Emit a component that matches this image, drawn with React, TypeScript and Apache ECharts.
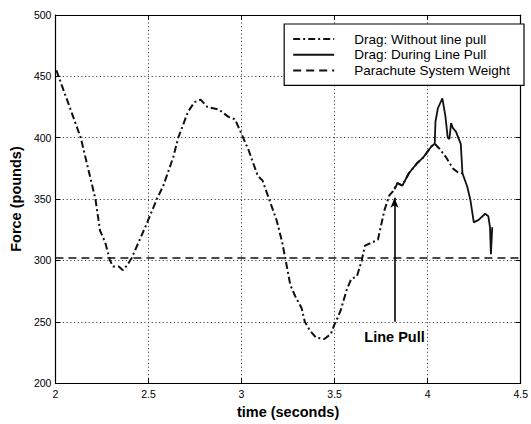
import React, { useEffect, useRef } from "react";
import * as echarts from "echarts";

// Drag force without any line pull (seconds, pounds)
const noPullTime = [
  2.005, 2.136, 2.215, 2.24, 2.267, 2.293, 2.31, 2.34, 2.363, 2.385, 2.41, 2.485,
  2.545, 2.58, 2.633, 2.66, 2.712, 2.747, 2.78, 2.817, 2.877, 2.93, 2.965, 3.0,
  3.04, 3.087, 3.113, 3.148, 3.19, 3.218, 3.236, 3.262, 3.288, 3.323, 3.34, 3.367,
  3.4, 3.445, 3.48, 3.497, 3.51, 3.532, 3.565, 3.59, 3.62, 3.646, 3.663, 3.707,
  3.733, 3.768, 3.794, 3.812, 3.838, 3.864, 3.899, 3.942, 3.977, 4.021, 4.038,
  4.064, 4.099, 4.135, 4.16, 4.187,
];
const noPullForce = [
  455, 400, 350, 324, 315, 300, 295, 295, 292, 296, 302, 328,
  350, 361, 384, 400, 421, 429, 431, 425, 423, 417, 415, 403,
  389, 369, 365, 350, 332, 315, 301, 280, 271, 261, 250, 243,
  237, 236, 240, 247, 251, 259, 276, 285, 287, 300, 312, 315,
  317, 341, 353, 356, 363, 361, 371, 379, 384, 393, 395,
  391, 384, 375, 372, 371,
];

// Drag force once the line pull begins
const duringTime = [
  3.822, 3.838, 3.864, 3.899, 3.942, 3.977, 4.021, 4.038, 4.042, 4.055, 4.079,
  4.095, 4.108, 4.117, 4.126, 4.135, 4.152, 4.178, 4.187, 4.213, 4.23, 4.248,
  4.274, 4.309, 4.326, 4.335, 4.34, 4.347,
];
const duringForce = [
  358, 363, 361, 371, 379, 384, 393, 395, 413, 424, 432,
  418, 400, 399, 412, 408, 405, 395, 371, 360, 349, 331,
  333, 338, 336, 327, 305, 327,
];

// Constant system weight
const weightTime = [2, 4.5];
const weightForce = [302, 302];

// Line-pull annotation
const pullTime = 3.822;
const pullArrowFrom = 250;
const pullArrowTo = 351;

const seriesNames = [
  "Drag: Without line pull",
  "Drag: During Line Pull",
  "Parachute System Weight",
];

const zip = (xs: number[], ys: number[]) => xs.map((x, i) => [x, ys[i]]);

const FONT = "'Liberation Sans', Arial, Helvetica, sans-serif";

export default function App() {
  const ref = useRef<HTMLDivElement>(null);

  useEffect(() => {
    if (!ref.current) return;
    const chart = echarts.init(ref.current, undefined, { renderer: "svg" });

    const gridLine = { show: true, lineStyle: { color: "#444", width: 1, type: [1.2, 2.5] as any } };
    const frameLine = { show: true, lineStyle: { color: "#000", width: 1.2 } };
    const tick = { show: true, inside: true, length: 5, lineStyle: { color: "#000", width: 1 } };
    const tickLabel = { color: "#000", fontSize: 10.5, fontFamily: FONT };

    chart.setOption({
      animation: false,
      backgroundColor: "#fff",
      textStyle: { fontFamily: FONT },
      grid: { left: 49, right: 5, top: 15, bottom: 34, containLabel: false },
      legend: {
        data: seriesNames,
        orient: "vertical",
        right: 7,
        top: 24,
        backgroundColor: "#fff",
        borderColor: "#000",
        borderWidth: 1.2,
        borderRadius: 0,
        padding: [8, 14, 8, 8],
        itemWidth: 41,
        itemHeight: 12,
        itemGap: 1.7,
        align: "left",
        selectedMode: false,
        // line samples only, no marker dot
        itemStyle: { color: "transparent", borderColor: "transparent", borderWidth: 0, opacity: 0 },
        textStyle: { color: "#000", fontSize: 13.5, fontFamily: FONT, padding: [0, 0, 0, 15] },
      },
      xAxis: [
        {
          type: "value",
          min: 2,
          max: 4.5,
          interval: 0.5,
          name: "time (seconds)",
          nameLocation: "middle",
          nameGap: 16,
          nameTextStyle: { color: "#000", fontSize: 14.5, fontWeight: "bold", fontFamily: FONT },
          axisLine: frameLine,
          axisTick: tick,
          axisLabel: { ...tickLabel, margin: 5 },
          splitLine: gridLine,
        },
        {
          type: "value",
          position: "top",
          min: 2,
          max: 4.5,
          interval: 0.5,
          axisLine: frameLine,
          axisTick: tick,
          axisLabel: { show: false },
          splitLine: { show: false },
        },
      ],
      yAxis: [
        {
          type: "value",
          min: 200,
          max: 500,
          interval: 50,
          name: "Force (pounds)",
          nameLocation: "middle",
          nameGap: 23,
          nameTextStyle: { color: "#000", fontSize: 14.5, fontWeight: "bold", fontFamily: FONT },
          axisLine: frameLine,
          axisTick: tick,
          axisLabel: { ...tickLabel, margin: 4 },
          splitLine: gridLine,
        },
        {
          type: "value",
          position: "right",
          min: 200,
          max: 500,
          interval: 50,
          axisLine: frameLine,
          axisTick: tick,
          axisLabel: { show: false },
          splitLine: { show: false },
        },
      ],
      series: [
        {
          name: seriesNames[0],
          type: "line",
          data: zip(noPullTime, noPullForce),
          symbol: "none",
          silent: true,
          lineStyle: { color: "#111", width: 2, type: [7, 3, 2, 3] },
          itemStyle: { color: "#111" },
        },
        {
          name: seriesNames[1],
          type: "line",
          data: zip(duringTime, duringForce),
          symbol: "none",
          silent: true,
          lineStyle: { color: "#111", width: 1.8, type: "solid" },
          itemStyle: { color: "#111" },
          markLine: {
            silent: true,
            symbol: ["none", "arrow"],
            symbolSize: [6, 10],
            lineStyle: { color: "#000", width: 1.6, type: "solid" },
            label: {
              show: true,
              position: "start",
              distance: 8,
              formatter: "Line Pull",
              color: "#000",
              fontSize: 14.5,
              fontWeight: "bold",
              fontFamily: FONT,
            },
            data: [[{ coord: [pullTime, pullArrowFrom] }, { coord: [pullTime, pullArrowTo] }]],
          },
        },
        {
          name: seriesNames[2],
          type: "line",
          data: zip(weightTime, weightForce),
          symbol: "none",
          silent: true,
          lineStyle: { color: "#111", width: 1.4, type: [8, 5] },
          itemStyle: { color: "#111" },
        },
      ],
    });

    return () => chart.dispose();
  }, []);

  return (
    <div
      ref={ref}
      style={{ position: "absolute", left: 0, top: 0, width: 531, height: 424 }}
    />
  );
}
